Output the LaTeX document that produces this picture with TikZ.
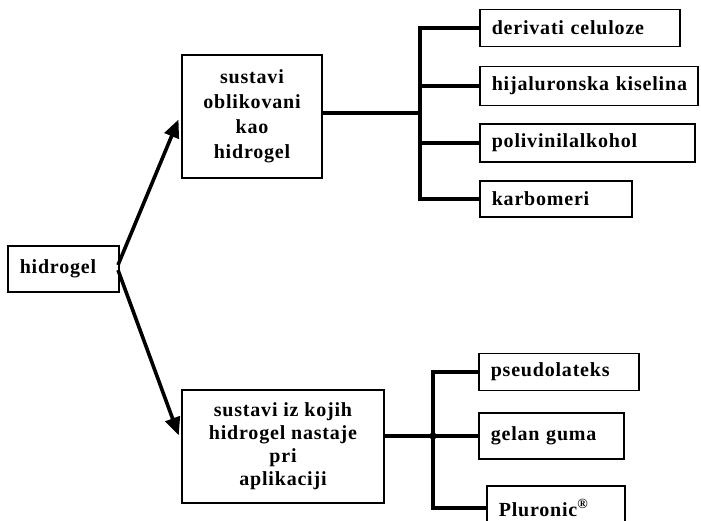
\documentclass[tikz,border=0pt]{standalone}
\usepackage{fontspec}
\setmainfont{Liberation Serif}[LetterSpace=4]
\usetikzlibrary{arrows.meta}
\begin{document}
\begin{tikzpicture}[x=1pt,y=-1pt,
  font=\fontsize{20}{25}\selectfont\bfseries,
  box/.style={draw, line width=1.6pt, inner xsep=0pt, inner ysep=0pt, align=center},
  leaf/.style={draw, line width=1.6pt, anchor=west, inner xsep=12pt, inner ysep=0pt, align=left},
  bus/.style={line width=3.2pt},
  branch/.style={line width=3.6pt, -{Triangle[length=18pt,width=15pt]}}]
\useasboundingbox (0,0) rectangle (701,520);

% root
\node[leaf, minimum width=111pt, minimum height=46pt, text width=87pt] (hid) at (7,269) {hidrogel};

% the two groups
\node[box, minimum width=140pt, minimum height=123pt] (top) at (252,116.5)
  {sustavi\\oblikovani\\kao\\hidrogel};
\node[box, minimum width=202pt, minimum height=113pt, font=\fontsize{20}{23}\selectfont\bfseries] (bot) at (283,446.5)
  {sustavi iz kojih\\hidrogel nastaje\\pri\\aplikaciji};

% leaves of the first group
\node[leaf, minimum width=200pt, minimum height=37pt, text width=176pt] (d1) at (479,28) {derivati celuloze};
\node[leaf, minimum width=218pt, minimum height=39pt, text width=194pt] (d2) at (479,86)
  {\makebox[194pt][l]{hijaluronska kiselina}};
\node[leaf, minimum width=215pt, minimum height=38pt, text width=191pt] (d3) at (479,143) {polivinilalkohol};
\node[leaf, minimum width=152pt, minimum height=36pt, text width=128pt] (d4) at (479,199) {karbomeri};

% leaves of the second group
\node[leaf, minimum width=160pt, minimum height=37pt, text width=136pt] (p1) at (478,372) {pseudolateks};
\node[leaf, minimum width=145pt, minimum height=46pt, text width=121pt] (p2) at (478,436) {gelan guma};
\node[leaf, minimum width=138pt, minimum height=44pt, text width=114pt] (p3) at (486,508) {Pluronic\textsuperscript{®}};

% junction points
\coordinate (bus1) at (420,113);
\coordinate (bus2) at (433,436);
\coordinate (hidA) at (118,265);
\coordinate (hidB) at (118,270);

% arrows from the root, stopping just short of the group boxes
\draw[branch, shorten >=7pt] (hidA) -- (top.west |- 0,113);
\draw[branch, shorten >=7pt] (hidB) -- (bot.west |- 0,442);

% first group tree
\draw[bus] (top.east |- bus1) -- (bus1);
\draw[bus] (d1.west) -| (bus1);
\draw[bus] (d2.west) -| (bus1);
\draw[bus] (d3.west) -| (bus1);
\draw[bus] (d4.west) -| (bus1);

% second group tree
\draw[bus] (bot.east |- bus2) -- (bus2);
\draw[bus] (p1.west) -| (bus2);
\draw[bus] (p2.west) -- (bus2);
\draw[bus] (p3.west) -| (bus2);
\fill (bus2) circle (3.6pt);
\end{tikzpicture}
\end{document}
